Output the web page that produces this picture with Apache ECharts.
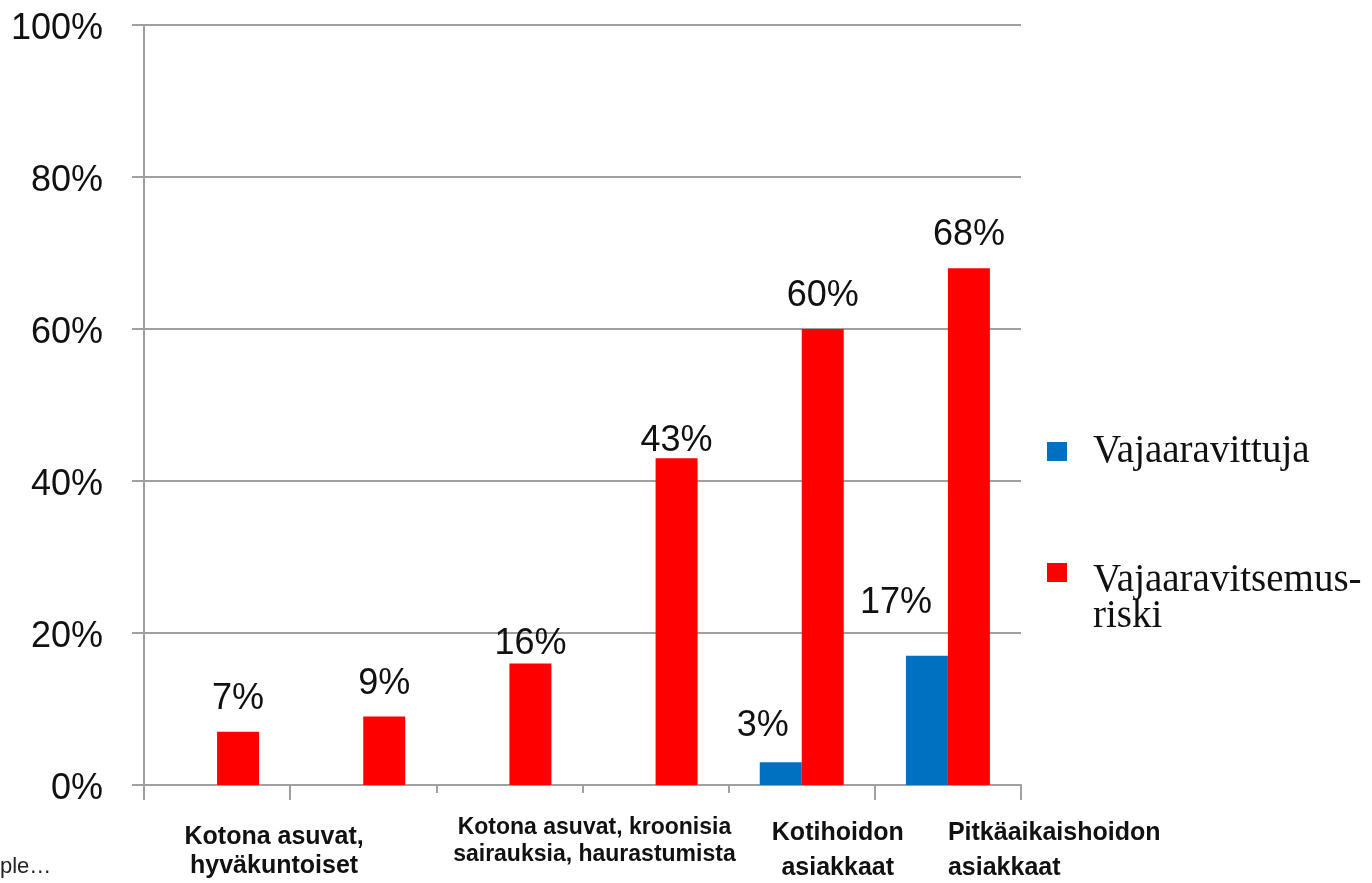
<!DOCTYPE html>
<html>
<head>
<meta charset="utf-8">
<script src="https://cdn.jsdelivr.net/npm/echarts@6/dist/echarts.min.js"></script>
<style>html,body{margin:0;padding:0;background:#fff}#c{width:1372px;height:883px}</style>
</head>
<body>
<div id="c"></div>
<script>
// ---- data ----
const categories = ['c1', 'c2', 'c3', 'c4', 'c5', 'c6'];
const groupLabels = ['Kotona asuvat,\nhyväkuntoiset', '', 'Kotona asuvat, kroonisia\nsairauksia, haurastumista', '', 'Kotihoidon\nasiakkaat', 'Pitkäaikaishoidon\nasiakkaat'];
const seriesNames = ['Vajaaravittuja', 'Vajaaravitsemus-\nriski'];
const blueValues = [null, null, null, null, 3, 17];
const redValues = [7, 9, 16, 43, 60, 68];
const yTicks = [0, 20, 40, 60, 80, 100];

// ---- styles (kept apart from data) ----
const labelStyles = [
  { fontSize: 25, lineHeight: 29, padding: [9, 0, 0, 114], align: 'center' },
  {},
  { fontSize: 23, lineHeight: 27, padding: [0, 0, 0, 170], align: 'center' },
  {},
  { fontSize: 25, lineHeight: 35, padding: [2, 0, 0, 72], align: 'center' },
  { fontSize: 25, lineHeight: 35, padding: [2, 0, 0, 0], align: 'left' }
];
const blueLabelOffsets = [[0,0],[0,0],[0,0],[0,0],[-18,-13],[-31,-30]];
const redLabelOffsets = [[0,0],[0,0],[0,14],[0,16],[0,0],[0,0]];

const grey = '#a0a0a0';
const gridBox = { left: 144, right: 351, top: 25, bottom: 98, outerBoundsMode: 'none', containLabel: false };
const legendRich = {
  t: { fontFamily: 'Liberation Serif', fontSize: 39, lineHeight: 36, color: '#111', padding: [0, 0, 0, 21] },
  b: { fontFamily: 'Liberation Serif', fontSize: 39, lineHeight: 52, color: '#111' }
};
const richWrap = (name) => name.split('\n').map((s) => '{t|' + s + '}').join('\n');

const chart = echarts.init(document.getElementById('c'));
chart.setOption({
  backgroundColor: '#fff',
  animation: false,
  grid: [Object.assign({}, gridBox), Object.assign({}, gridBox)],
  legend: [
    {
      orient: 'vertical', left: 1042, top: 427,
      itemWidth: 20, itemHeight: 19, icon: 'rect',
      textStyle: { rich: legendRich },
      formatter: (name) => richWrap(name),
      data: [seriesNames[0]]
    },
    {
      orient: 'vertical', left: 1042, top: 512,
      itemWidth: 20, itemHeight: 19, icon: 'rect',
      textStyle: { rich: legendRich },
      formatter: (name) => '{b| }\n' + richWrap(name),
      data: [seriesNames[1]]
    }
  ],
  xAxis: [
    {
      type: 'category', gridIndex: 0, data: categories.map((c, i) => ({ value: c, textStyle: labelStyles[i] })),
      boundaryGap: true,
      axisLine: { show: true, lineStyle: { color: grey, width: 2 } },
      axisTick: { show: true, length: 8, lineStyle: { color: grey, width: 2 } },
      axisLabel: {
        interval: 0, margin: 29, fontFamily: 'Liberation Sans', fontWeight: 'bold', color: '#111',
        verticalAlign: 'top',
        formatter: (v, i) => groupLabels[i]
      }
    },
    {
      type: 'category', gridIndex: 1, data: categories, boundaryGap: true,
      axisLine: { show: false },
      axisTick: { show: true, length: 15, interval: (i) => i === 0 || i === 1 || i === 5, lineStyle: { color: grey, width: 2 } },
      axisLabel: { show: false }
    }
  ],
  yAxis: [
    {
      type: 'value', gridIndex: 0, min: 0, max: 100, interval: 20,
      axisLine: { show: true, lineStyle: { color: grey, width: 2 } },
      axisTick: { show: true, length: 12, lineStyle: { color: grey, width: 2 } },
      splitLine: { show: true, lineStyle: { color: grey, width: 2 } },
      axisLabel: {
        margin: 41, color: '#111',
        rich: { v: { fontFamily: 'Liberation Sans', fontSize: 36, color: '#111', padding: [8, 0, 0, 0] } },
        formatter: (v) => (yTicks.includes(v) ? '{v|' + v + '%}' : '')
      }
    },
    { type: 'value', gridIndex: 1, min: 0, max: 100, show: false }
  ],
  series: [
    {
      name: seriesNames[0], type: 'bar', xAxisIndex: 0, yAxisIndex: 0,
      barWidth: 42, barGap: '0%',
      itemStyle: { color: '#0070C0' },
      data: blueValues.map((v, i) => ({ value: v, label: { offset: blueLabelOffsets[i] } })),
      label: { show: true, position: 'top', distance: 5, fontFamily: 'Liberation Sans', fontSize: 36, color: '#111', formatter: (p) => p.value + '%' }
    },
    {
      name: seriesNames[1], type: 'bar', xAxisIndex: 0, yAxisIndex: 0,
      barWidth: 42, barGap: '0%',
      itemStyle: { color: '#FF0000' },
      data: redValues.map((v, i) => ({ value: v, label: { offset: redLabelOffsets[i] } })),
      label: { show: true, position: 'top', distance: 15, fontFamily: 'Liberation Sans', fontSize: 36, color: '#111', formatter: (p) => p.value + '%' }
    }
  ],
  graphic: [
    { type: 'text', left: 0, top: 856, style: { text: 'ple…', fontFamily: 'Liberation Sans', fontSize: 22, fill: '#222' } }
  ]
});
</script>
</body>
</html>
